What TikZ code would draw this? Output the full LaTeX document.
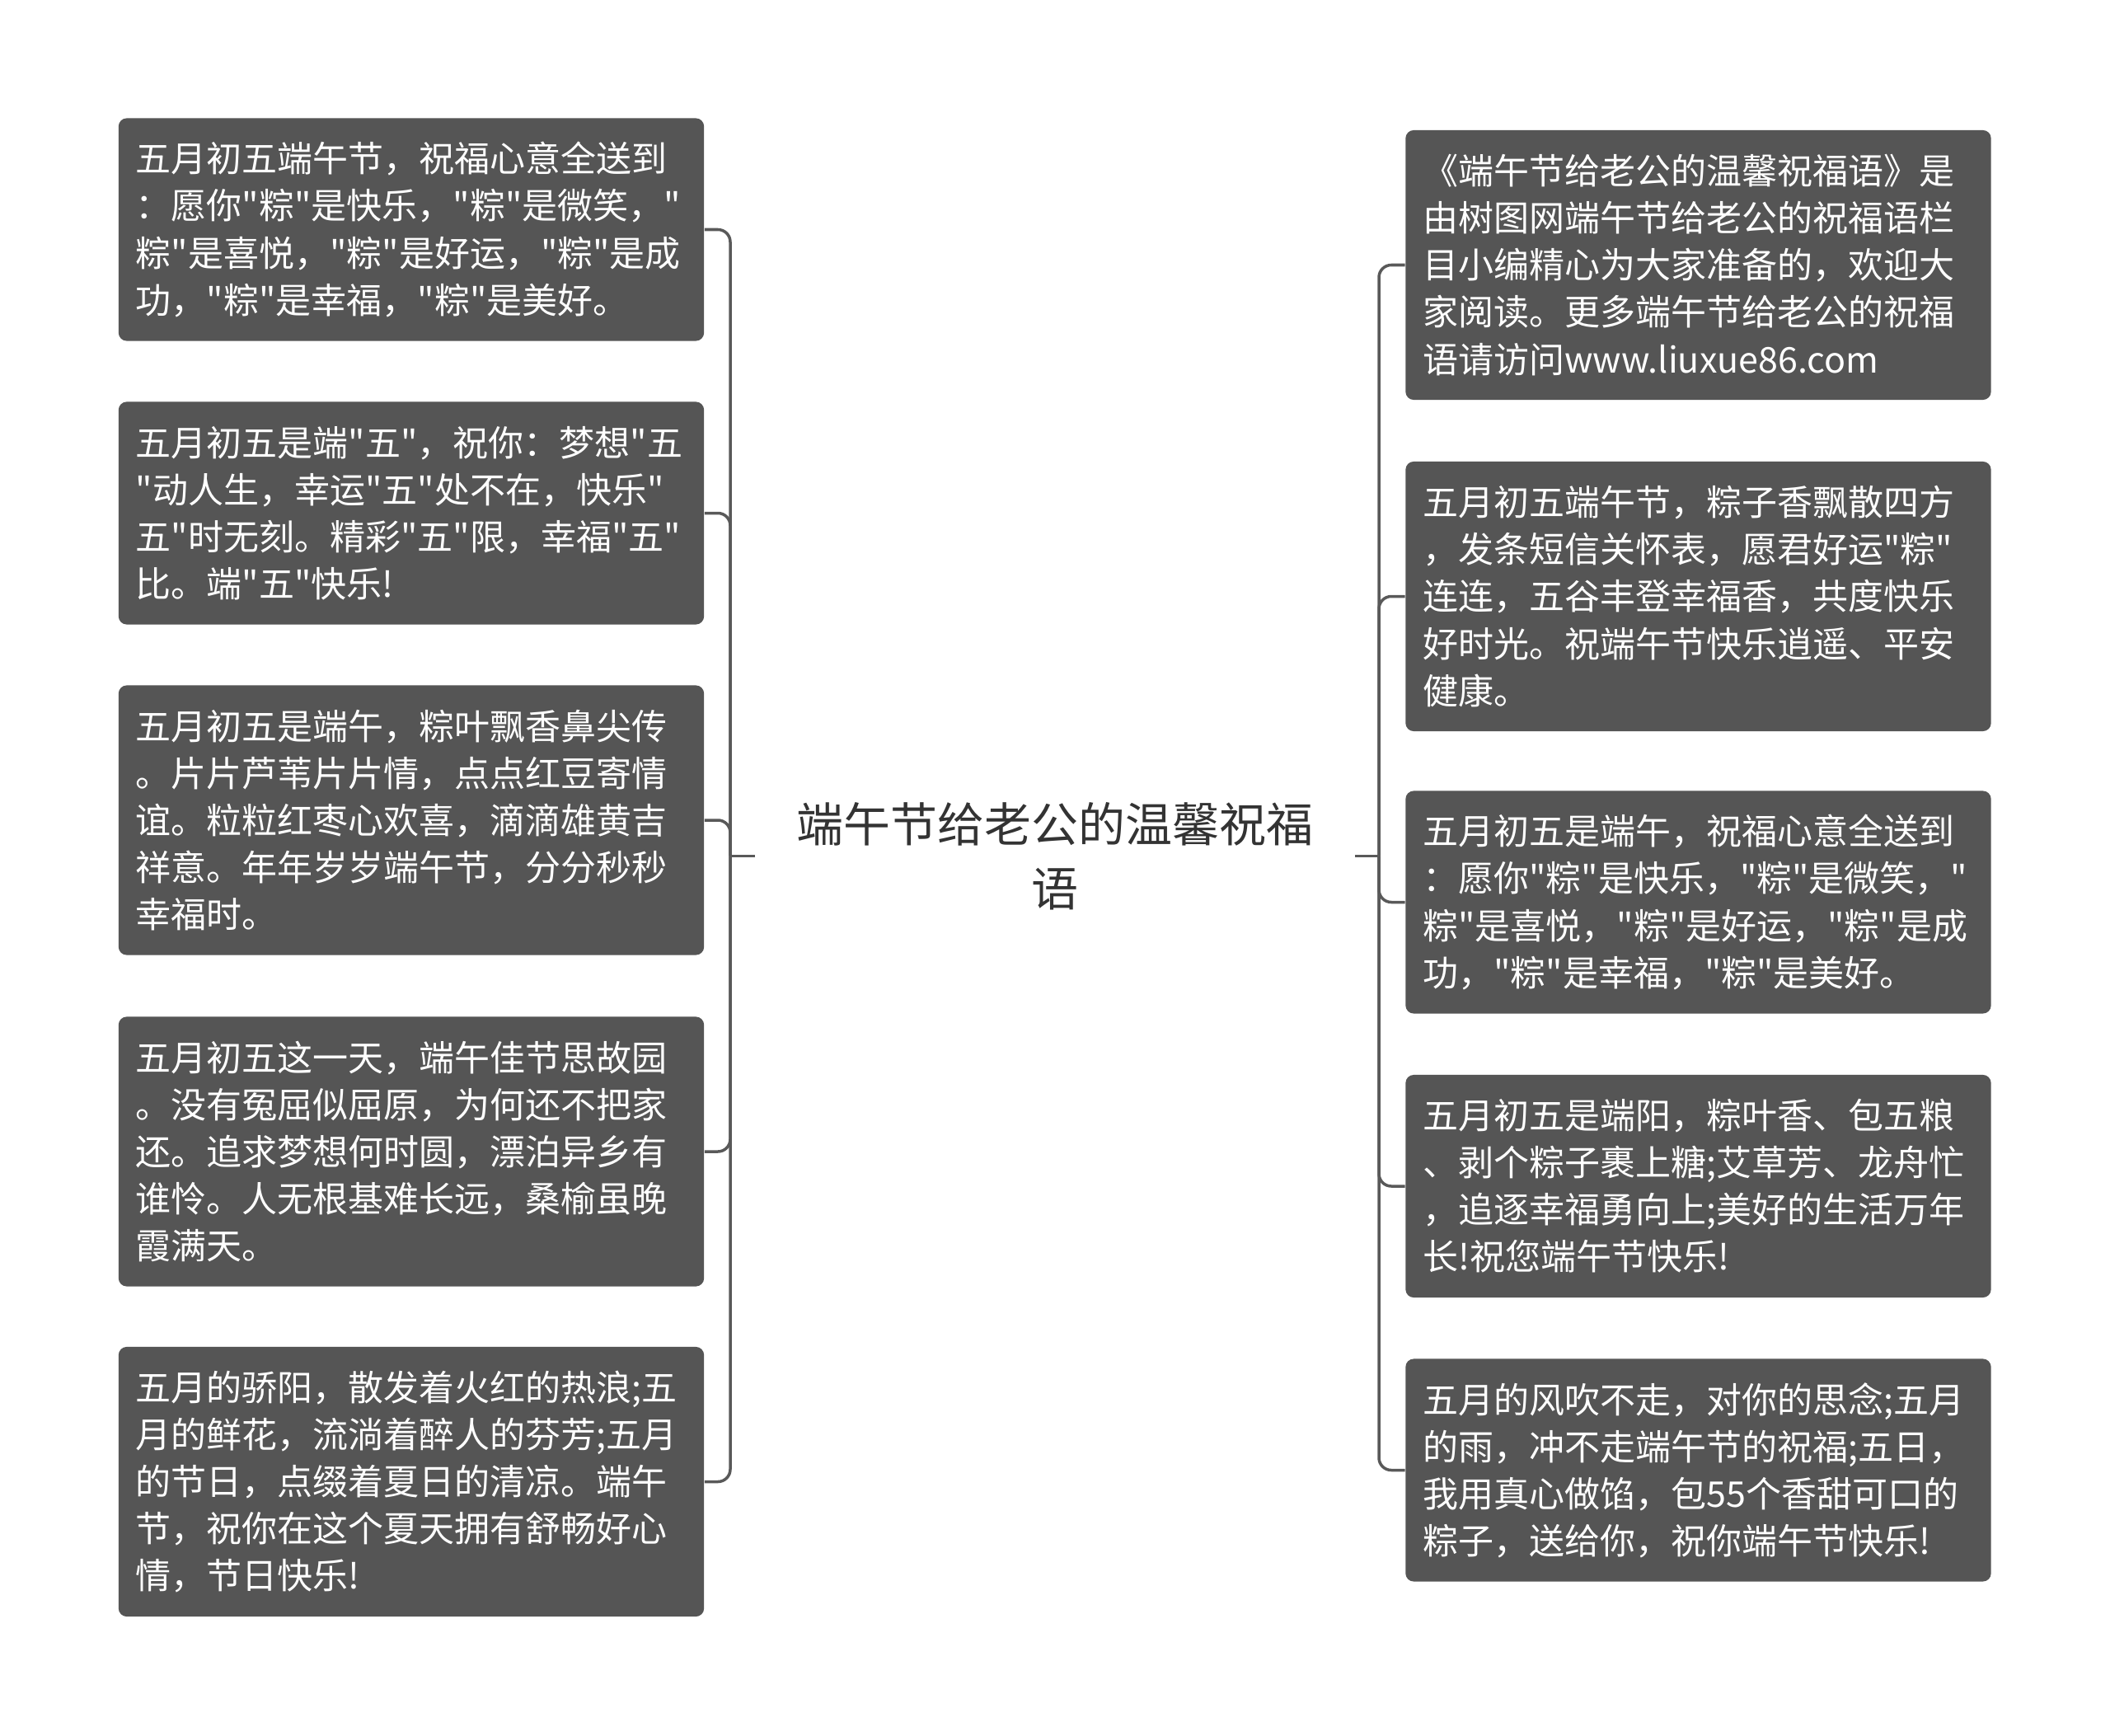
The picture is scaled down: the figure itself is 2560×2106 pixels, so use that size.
\documentclass[tikz,border=0pt]{standalone}
\usepackage{fontspec}
\newfontfamily\cjk{Noto Sans CJK SC}
\definecolor{boxgray}{HTML}{555555}
\definecolor{linegray}{HTML}{595959}
\definecolor{titlegray}{HTML}{333333}
\begin{document}
\begin{tikzpicture}[x=0.01cm,y=-0.01cm,
  leaf/.style={fill=boxgray, rounded corners=0.1cm, text=white, align=left,
    text width=6.68cm, inner xsep=0.21cm, inner ysep=0pt,
    font=\cjk\fontsize{12.23pt}{16.22pt}\selectfont, anchor=center},
  four/.style={leaf, minimum height=2.70cm},
  five/.style={leaf, minimum height=3.27cm},
  conn/.style={draw=linegray, line width=0.035cm, rounded corners=0.15cm},
  titlenode/.style={text=titlegray, align=center,
    font=\cjk\fontsize{16.2pt}{22.2pt}\selectfont, minimum width=7.26cm, inner sep=0pt}]
\useasboundingbox[fill=white] (0,0) rectangle (2560,2106);

\node[titlenode] (title) at (1280,1038.5) {端午节给老公的温馨祝福\\语};

\node[four] (L1) at (499,278.5) {五月初五端午节，祝福心意全送到\\：愿你"粽"是快乐，"粽"是微笑，"\\粽"是喜悦，"粽"是好运，"粽"是成\\功，"粽"是幸福，"粽"是美好。};
\node[four] (L2) at (499,622.5) {五月初五是端"五"，祝你：梦想"五\\"动人生，幸运"五"处不在，快乐"\\五"时无刻。精彩"五"限，幸福"五"\\比。端"五"快乐!};
\node[five] (L3) at (499,995) {五月初五是端午，粽叶飘香鼻尖传\\。片片芦苇片片情，点点红豆寄情\\谊。粒粒红枣心欢喜，滴滴雄黄吉\\祥意。年年岁岁端午节，分分秒秒\\幸福时。};
\node[five] (L4) at (499,1397) {五月初五这一天，端午佳节思故园\\。没有冤屈似屈原，为何还不把家\\还。追求梦想何时圆，漂泊异乡有\\谁怜。人无根基难长远，桑榆虽晚\\霞满天。};
\node[five] (L5) at (499,1797.5) {五月的骄阳，散发着火红的热浪;五\\月的鲜花，流淌着醉人的芬芳;五月\\的节日，点缀着夏日的清凉。端午\\节，祝你在这个夏天拥有舒畅好心\\情，节日快乐!};

\node[five] (R1) at (2060.5,321.5) {《端午节给老公的温馨祝福语》是\\由树图网端午节给老公的祝福语栏\\目小编精心为大家准备的，欢迎大\\家阅读。更多端午节给老公的祝福\\语请访问www.liuxue86.com};
\node[five] (R2) at (2060.5,723.5) {五月初五端午节，粽子香飘散四方\\，发条短信关怀表，愿君好运"粽"\\连连，五谷丰登幸福香，共度快乐\\好时光。祝端午节快乐逍遥、平安\\健康。};
\node[four] (R3) at (2060.5,1094.5) {五月初五是端午，祝福心意全送到\\：愿你"粽"是快乐，"粽"是微笑，"\\粽"是喜悦，"粽"是好运，"粽"是成\\功，"粽"是幸福，"粽"是美好。};
\node[four] (R4) at (2060.5,1439) {五月初五是端阳，粽叶香、包五粮\\、剥个粽子裹上糖;艾草芳、龙舟忙\\，追逐幸福勇向上;美好的生活万年\\长!祝您端午节快乐!};
\node[four] (R5) at (2060.5,1783.5) {五月的风吹不走，对你的思念;五月\\的雨，冲不走端午节的祝福;五日，\\我用真心做馅，包55个香甜可口的\\粽子，送给你，祝你端午节快乐!};

\coordinate (lj) at (886,1038.5);
\coordinate (rj) at (1673,1038.5);
\draw[conn] (title.west) -- (lj);
\draw[conn] (title.east) -- (rj);
\foreach \n in {L1,L2,L3,L4,L5} \draw[conn] (lj) |- (\n.east);
\foreach \n in {R1,R2,R3,R4,R5} \draw[conn] (rj) |- (\n.west);
\end{tikzpicture}
\end{document}
